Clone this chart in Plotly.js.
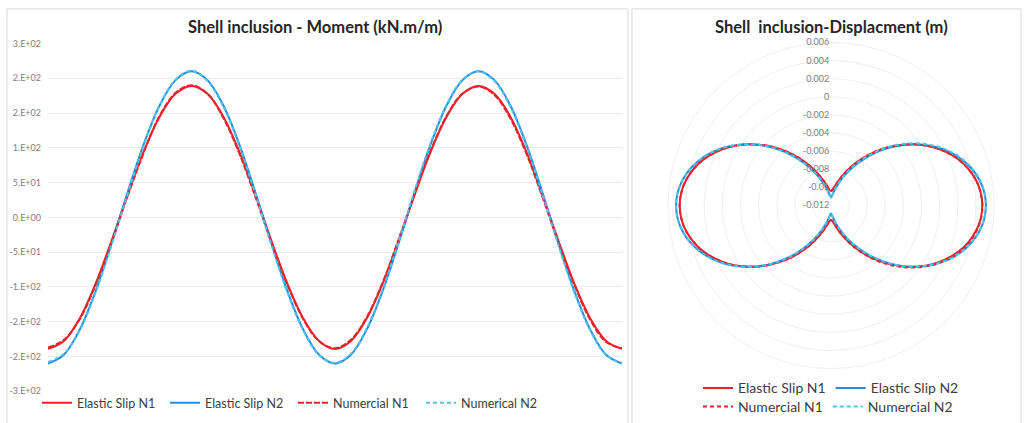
<!DOCTYPE html>
<html>
<head>
<meta charset="utf-8">
<script src="https://cdn.plot.ly/plotly-3.0.1.min.js"></script>
<style>html,body{margin:0;padding:0;background:#fff;}#chart{width:1027px;height:423px;}</style>
</head>
<body>
<div id="chart"></div>
<script>
// ---- Left chart: moment (kN.m/m) vs angle (deg) ----
const angleDeg = [0,10,20,30,40,50,60,70,80,90,100,110,120,130,140,150,160,170,180,190,200,210,220,230,240,250,260,270,280,290,300,310,320,330,340,350,360];
const momentElasticN1 = [-189,-177.6,-144.8,-94.5,-32.8,32.8,94.5,144.8,177.6,189,177.6,144.8,94.5,32.8,-32.8,-94.5,-144.8,-177.6,-189,-177.6,-144.8,-94.5,-32.8,32.8,94.5,144.8,177.6,189,177.6,144.8,94.5,32.8,-32.8,-94.5,-144.8,-177.6,-189];
const momentElasticN2 = [-210,-197.3,-160.9,-105,-36.5,36.5,105,160.9,197.3,210,197.3,160.9,105,36.5,-36.5,-105,-160.9,-197.3,-210,-197.3,-160.9,-105,-36.5,36.5,105,160.9,197.3,210,197.3,160.9,105,36.5,-36.5,-105,-160.9,-197.3,-210];
const momentNumN1 = [-187,-176,-146,-96,-35,31,93,146,179,190,178,143,92,30,-35,-96,-146,-178,-188,-176,-143,-93,-31,34,96,146,178,188,176,142,92,30,-35,-96,-147,-179,-188];
const momentNumN2 = [-208,-196,-162,-107,-39,34,103,161,198,211,196,159,103,34,-39,-107,-162,-198,-209,-196,-159,-103,-34,39,107,162,198,210,196,159,103,34,-39,-107,-162,-198,-209];
const momentTickVals = [-250,-200,-150,-100,-50,0,50,100,150,200,250];
const momentTickText = ["-3.E+02","-2.E+02","-2.E+02","-1.E+02","-5.E+01","0.E+00","5.E+01","1.E+02","2.E+02","2.E+02","3.E+02"];

// ---- Right chart: displacement (m), radar ----
const thetaDeg = [0,5,10,15,20,25,30,35,40,45,50,55,60,65,70,75,80,85,90,95,100,105,110,115,120,125,130,135,140,145,150,155,160,165,170,175,180,185,190,195,200,205,210,215,220,225,230,235,240,245,250,255,260,265,270,275,280,285,290,295,300,305,310,315,320,325,330,335,340,345,350,355,360];
const dispElasticN1 = [-0.0104,-0.01029,-0.00995,-0.00939,-0.00863,-0.0077,-0.00663,-0.00543,-0.00416,-0.00285,-0.00154,-0.00027,0.00093,0.002,0.00293,0.00369,0.00424,0.00459,0.0047,0.00459,0.00424,0.00369,0.00293,0.002,0.00093,-0.00027,-0.00154,-0.00285,-0.00416,-0.00543,-0.00663,-0.0077,-0.00863,-0.00939,-0.00995,-0.01029,-0.0104,
  -0.01029,-0.00995,-0.00939,-0.00863,-0.0077,-0.00663,-0.00543,-0.00416,-0.00285,-0.00154,-0.00027,0.00093,0.002,0.00293,0.00369,0.00424,0.00459,0.0047,0.00459,0.00424,0.00369,0.00293,0.002,0.00093,-0.00027,-0.00154,-0.00285,-0.00416,-0.00543,-0.00663,-0.0077,-0.00863,-0.00939,-0.00995,-0.01029,-0.0104];
const dispElasticN2 = [-0.0111,-0.01098,-0.01061,-0.01001,-0.0092,-0.00821,-0.00705,-0.00577,-0.00441,-0.003,-0.00159,-0.00023,0.00105,0.00221,0.0032,0.00401,0.00461,0.00498,0.0051,0.00498,0.00461,0.00401,0.0032,0.00221,0.00105,-0.00023,-0.00159,-0.003,-0.00441,-0.00577,-0.00705,-0.00821,-0.0092,-0.01001,-0.01061,-0.01098,-0.0111,
  -0.01098,-0.01061,-0.01001,-0.0092,-0.00821,-0.00705,-0.00577,-0.00441,-0.003,-0.00159,-0.00023,0.00105,0.00221,0.0032,0.00401,0.00461,0.00498,0.0051,0.00498,0.00461,0.00401,0.0032,0.00221,0.00105,-0.00023,-0.00159,-0.003,-0.00441,-0.00577,-0.00705,-0.00821,-0.0092,-0.01001,-0.01061,-0.01098,-0.0111];
const dispNumN1 = [-0.0104,-0.01027,-0.00992,-0.00936,-0.00866,-0.00767,-0.0066,-0.00546,-0.00413,-0.00281,-0.00157,-0.00024,0.00096,0.00198,0.00296,0.00367,0.00427,0.00457,0.00472,0.00462,0.0043,0.00378,0.00305,0.00214,0.00108,-0.00012,-0.0014,-0.00272,-0.00404,-0.00535,-0.00656,-0.00766,-0.0086,-0.00937,-0.00994,-0.01028,-0.0104,
  -0.01028,-0.00993,-0.00937,-0.00861,-0.00772,-0.0066,-0.00546,-0.00413,-0.00288,-0.00151,-0.0003,0.00096,0.00197,0.00296,0.00366,0.00427,0.00457,0.00472,0.00457,0.00426,0.00367,0.00295,0.00198,0.00095,-0.00025,-0.00157,-0.00282,-0.00418,-0.0054,-0.00666,-0.00767,-0.00866,-0.00936,-0.00997,-0.01027,-0.0104];
const dispNumN2 = [-0.0111,-0.01096,-0.01058,-0.00996,-0.00912,-0.0081,-0.0069,-0.0056,-0.00422,-0.0028,-0.0014,-0.00005,0.0012,0.00234,0.0033,0.00408,0.00466,0.005,0.00511,0.00497,0.00459,0.00399,0.00318,0.00219,0.00103,-0.00025,-0.00161,-0.00302,-0.00443,-0.00579,-0.00707,-0.00822,-0.00921,-0.01002,-0.01062,-0.01099,-0.0111,
  -0.01097,-0.0106,-0.01,-0.00918,-0.0082,-0.00703,-0.00575,-0.00439,-0.00298,-0.00157,-0.00021,0.00107,0.00222,0.00321,0.00402,0.00462,0.00499,0.00511,0.00499,0.00462,0.00402,0.00321,0.00222,0.00106,-0.00022,-0.00158,-0.00299,-0.0044,-0.00576,-0.00704,-0.0082,-0.00919,-0.01,-0.0106,-0.01097,-0.0111];
const dispTickVals = [-0.012,-0.01,-0.008,-0.006,-0.004,-0.002,0,0.002,0.004,0.006];
const dispTickText = ["-0.012","-0.01","-0.008","-0.006","-0.004","-0.002","0","0.002","0.004","0.006"];

const RED = '#ee1f26', BLUE = '#2a8ad6', LBLUE = '#4cc4f0', RED2 = '#e0252b';
const W = 1027, H = 423;
const FONT = 'Lato, "Open Sans", sans-serif';

const traces = [
  {type:'scatter', mode:'lines', x:angleDeg, y:momentElasticN1, name:'Elastic Slip N1', line:{color:RED, width:2, shape:'spline'}, legend:'legend'},
  {type:'scatter', mode:'lines', x:angleDeg, y:momentElasticN2, name:'Elastic Slip N2', line:{color:BLUE, width:2, shape:'spline'}, legend:'legend'},
  {type:'scatter', mode:'lines', x:angleDeg, y:momentNumN1, name:'Numercial N1', line:{color:RED2, width:2, dash:'6px,2px', shape:'spline'}, legend:'legend'},
  {type:'scatter', mode:'lines', x:angleDeg, y:momentNumN2, name:'Numerical N2', line:{color:LBLUE, width:2, dash:'4px,3px', shape:'spline'}, legend:'legend'},
  {type:'scatterpolar', mode:'lines', theta:thetaDeg, r:dispElasticN1, name:'Elastic Slip N1', line:{color:RED, width:2, shape:'spline'}, legend:'legend2'},
  {type:'scatterpolar', mode:'lines', theta:thetaDeg, r:dispElasticN2, name:'Elastic Slip N2', line:{color:BLUE, width:2, shape:'spline'}, legend:'legend2'},
  {type:'scatterpolar', mode:'lines', theta:thetaDeg, r:dispNumN1, name:'Numercial N1', line:{color:RED2, width:2, dash:'4px,3px', shape:'spline'}, legend:'legend3'},
  {type:'scatterpolar', mode:'lines', theta:thetaDeg, r:dispNumN2, name:'Numercial N2', line:{color:LBLUE, width:2, dash:'4px,3px', shape:'spline'}, legend:'legend3'}
];

const legendBase = {orientation:'h', xanchor:'left', yanchor:'middle', bgcolor:'rgba(0,0,0,0)', borderwidth:0, traceorder:'normal', itemclick:false, itemdoubleclick:false};

const layout = {
  width: W, height: H,
  margin: {l:0, r:0, t:0, b:0},
  paper_bgcolor:'#ffffff', plot_bgcolor:'rgba(0,0,0,0)',
  font: {family: FONT, color:'#595959'},
  showlegend: true,
  xaxis: {domain:[48/W, 622/W], range:[0,360], showticklabels:false, showgrid:false, zeroline:false, showline:false, ticks:'', fixedrange:true},
  yaxis: {domain:[(H-396)/H, (H-44)/H], range:[-250,250], tickmode:'array', tickvals:momentTickVals, ticktext:momentTickText,
          showgrid:true, gridcolor:'#ebebeb', gridwidth:1, zeroline:false, showline:false, ticks:'', ticklabelstandoff:6,
          tickfont:{family:FONT, size:9, color:'#808080'}, fixedrange:true},
  polar: {
    domain: {x:[(831-165)/W, (831+165)/W], y:[(H-373)/H, (H-43)/H]},
    bgcolor:'rgba(0,0,0,0)',
    radialaxis: {range:[-0.012,0.006], tickmode:'array', tickvals:dispTickVals, ticktext:dispTickText, angle:90, tickangle:90,
                 side:'counterclockwise', showline:false, ticks:'', gridcolor:'#efefef', gridwidth:1,
                 tickfont:{family:FONT, size:9, color:'#808080'}},
    angularaxis: {rotation:90, direction:'clockwise', showticklabels:false, ticks:'', showgrid:false, showline:true, linecolor:'#efefef', linewidth:1}
  },
  legend: Object.assign({}, legendBase, {x:37/W, y:(H-408)/H, entrywidth:83, entrywidthmode:'pixels', font:{family:FONT, size:12.5, color:'#404040'}}),
  legend2: Object.assign({}, legendBase, {x:698/W, y:(H-393)/H, font:{family:FONT, size:14, color:'#404040'}}),
  legend3: Object.assign({}, legendBase, {x:698/W, y:(H-412)/H, font:{family:FONT, size:14, color:'#404040'}}),
  annotations: [
    {text:'<b>Shell inclusion - Moment (kN.m/m)</b>', xref:'paper', yref:'paper', x:315/W, y:(H-27)/H, xanchor:'center', yanchor:'middle', showarrow:false, font:{family:FONT, size:16.5, color:'#262626'}},
    {text:'<b>Shell  inclusion-Displacment (m)</b>', xref:'paper', yref:'paper', x:831/W, y:(H-27)/H, xanchor:'center', yanchor:'middle', showarrow:false, font:{family:FONT, size:16.5, color:'#262626'}}
  ],
  shapes: [
    {type:'rect', xref:'paper', yref:'paper', x0:7/W, x1:628/W, y0:-0.02, y1:(H-9)/H, line:{color:'#d9d9d9', width:1}, fillcolor:'rgba(0,0,0,0)', layer:'below'},
    {type:'rect', xref:'paper', yref:'paper', x0:632/W, x1:1021/W, y0:-0.02, y1:(H-9)/H, line:{color:'#d9d9d9', width:1}, fillcolor:'rgba(0,0,0,0)', layer:'below'}
  ]
};

Plotly.newPlot('chart', traces, layout, {displayModeBar:false, staticPlot:true});
</script>
</body>
</html>
